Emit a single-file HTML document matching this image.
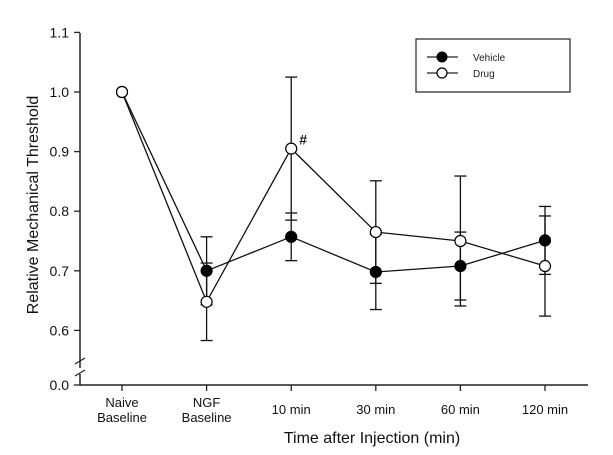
<!DOCTYPE html>
<html><head><meta charset="utf-8"><style>
body{margin:0;background:#fff;}
svg{display:block;font-family:"Liberation Sans",sans-serif;}
</style></head><body>
<svg id="chart" width="613" height="455">
<line x1="80" y1="33" x2="80" y2="368" stroke="#222" stroke-width="1.5"/>
<line x1="80" y1="374" x2="80" y2="385" stroke="#222" stroke-width="1.5"/>
<line x1="75" y1="364" x2="85" y2="358" stroke="#222" stroke-width="1.2"/>
<line x1="75" y1="376" x2="85" y2="370" stroke="#222" stroke-width="1.2"/>
<line x1="80" y1="385" x2="588" y2="385" stroke="#222" stroke-width="1.5"/>
<text transform="translate(38,205) rotate(-90)" text-anchor="middle" font-size="16" fill="#111">Relative Mechanical Threshold</text>
<text x="372" y="443" text-anchor="middle" font-size="16" fill="#111">Time after Injection (min)</text>
<g id="ticks"></g><g id="marks"></g>
<g>
<rect x="416" y="39" width="154" height="53" fill="#fff" stroke="#222" stroke-width="1.2"/>
<line x1="427" y1="57" x2="458" y2="57" stroke="#222" stroke-width="1.3"/>
<circle cx="442" cy="57" r="5" fill="#000" stroke="#000"/>
<text x="473" y="61" font-size="10" fill="#222">Vehicle</text>
<line x1="427" y1="73" x2="458" y2="73" stroke="#222" stroke-width="1.3"/>
<circle cx="442" cy="73" r="5" fill="#fff" stroke="#000" stroke-width="1.2"/>
<text x="473" y="77" font-size="10" fill="#222">Drug</text>
</g>
</svg>
<script>
const categories=[["Naive","Baseline"],["NGF","Baseline"],["10 min"],["30 min"],["60 min"],["120 min"]];
const vehicle=[1.0,0.70,0.757,0.698,0.708,0.751];
const vehicleErr=[0,0.057,0.04,0.063,0.057,0.057];
const drug=[1.0,0.648,0.905,0.765,0.750,0.708];
const drugErr=[0,0.065,0.12,0.086,0.109,0.084];
const yTicks=[0.6,0.7,0.8,0.9,1.0,1.1];
const NS="http://www.w3.org/2000/svg";
function xS(i){return 122+i*84.6;}
function yS(v){return 92-(v-1.0)*596;}
function mk(t,a,p){const e=document.createElementNS(NS,t);for(const k in a)e.setAttribute(k,a[k]);p.appendChild(e);return e;}
const tg=document.getElementById('ticks'),mg=document.getElementById('marks');
yTicks.concat([0]).forEach(v=>{const y=v===0?385:yS(v);
const l=mk('line',{x1:74,x2:80,y1:y,y2:y,stroke:'#222','stroke-width':1.3},tg);


const t=mk('text',{x:69,y:y+5,'text-anchor':'end','font-size':14,fill:'#111'},tg);


t.textContent=v.toFixed(1);});
categories.forEach((c,i)=>{const x=xS(i);
const l=mk('line',{x1:x,x2:x,y1:385,y2:391,stroke:'#222','stroke-width':1.3},tg);


const t=mk('text',{x:x,y:c.length>1?407:414,'text-anchor':'middle','font-size':13,fill:'#111'},tg);


c.forEach((s,j)=>{const ts=mk('tspan',{x:x,dy:j?15:0},t);ts.textContent=s;});});
function series(vals,errs,fill,name){
const pts=vals.map((v,i)=>xS(i)+','+yS(v)).join(' ');
const pl=mk('polyline',{points:pts,fill:'none',stroke:'#111','stroke-width':1.3},mg);


vals.forEach((v,i)=>{if(!errs[i])return;const x=xS(i),y1=yS(v+errs[i]),y2=yS(v-errs[i]);
const g=mk('g',{stroke:'#111','stroke-width':1.3},mg);


mk('line',{x1:x,x2:x,y1:y1,y2:y2},g);mk('line',{x1:x-6,x2:x+6,y1:y1,y2:y1},g);mk('line',{x1:x-6,x2:x+6,y1:y2,y2:y2},g);});
return ()=>vals.forEach((v,i)=>{const c=mk('circle',{cx:xS(i),cy:yS(v),r:5.5,fill:fill,stroke:'#000','stroke-width':1.2},mg);

});}
const dv=series(vehicle,vehicleErr,'#000','vehicle');
const dd=series(drug,drugErr,'#fff','drug');
dv();dd();
const h=mk('text',{x:xS(2)+8,y:yS(drug[2])-4,'font-size':14,'font-weight':'bold',fill:'#111'},mg);


h.textContent='#';
</script>
</body></html>
